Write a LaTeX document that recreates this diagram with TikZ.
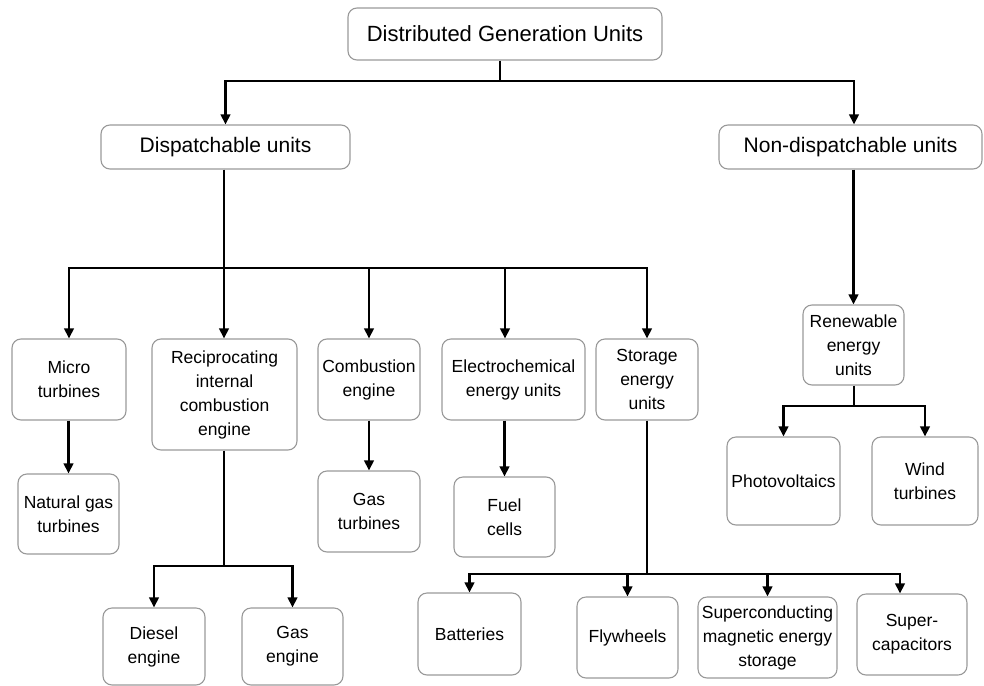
\documentclass[tikz,border=0pt]{standalone}
\usepackage{fontspec}
\setmainfont{Liberation Sans}
\usetikzlibrary{arrows.meta}
\begin{document}
\begin{tikzpicture}[x=1pt, y=-1pt,
  unit/.style={draw=black!40, line width=1.1pt, rounded corners=9pt, align=center, inner sep=2pt, font=\fontsize{17.5}{24}\selectfont},
  headunit/.style={unit, font=\fontsize{21}{24}\selectfont},
  link/.style={line width=2.4pt},
  arrowlink/.style={link, -{Triangle[length=10pt,width=9.5pt]}}]
\useasboundingbox (0,0) rectangle (984,685);
% top and second level
\node[headunit, minimum width=314pt, minimum height=52pt, font=\fontsize{22}{24}\selectfont] (dgu) at (505,34) {Distributed Generation Units};
\node[headunit, minimum width=249pt, minimum height=44pt] (disp) at (225.5,147) {Dispatchable units};
\node[headunit, minimum width=263pt, minimum height=44pt] (nondisp) at (850.5,147) {Non-dispatchable units};
\coordinate (t0) at (500,81);
\draw[link] (dgu.south -| t0) -- (t0);
\draw[arrowlink] (t0) -| (disp.north);
\draw[arrowlink] (t0) -| ([xshift=3.5pt]nondisp.north);
% dispatchable units
\node[unit, minimum width=114pt, minimum height=81pt] (micro) at (69,379.5) {Micro\\turbines};
\node[unit, minimum width=145pt, minimum height=111pt] (recip) at (224.5,394.5) {Reciprocating\\internal\\combustion\\engine};
\node[unit, minimum width=102pt, minimum height=81pt] (comb) at (369,379.5) {Combustion\\engine};
\node[unit, minimum width=143pt, minimum height=81pt] (electro) at (513.5,379.5) {Electrochemical\\energy units};
\node[unit, minimum width=102pt, minimum height=81pt] (storage) at (647,379.5) {Storage\\energy\\units};
\coordinate (d0) at (224,268);
\draw[link] (disp.south -| d0) -- (d0);
\draw[arrowlink] (d0) -| (micro.north);
\draw[arrowlink] (d0) -- (recip.north -| d0);
\draw[arrowlink] (d0) -| (comb.north);
\draw[arrowlink] (d0) -| ([xshift=-8.5pt]electro.north);
\draw[arrowlink] (d0) -| (storage.north);
% third level
\node[unit, minimum width=101pt, minimum height=80pt] (natgas) at (68.5,514) {Natural gas\\turbines};
\node[unit, minimum width=102pt, minimum height=81pt] (gasturb) at (369,511.5) {Gas\\turbines};
\node[unit, minimum width=101pt, minimum height=80pt] (fuel) at (504.5,517) {Fuel\\cells};
\draw[arrowlink] (natgas.north |- micro.south) -- (natgas.north);
\draw[arrowlink] (comb.south) -- (gasturb.north);
\draw[arrowlink] (fuel.north |- electro.south) -- (fuel.north);
% engines
\node[unit, minimum width=102pt, minimum height=77pt] (diesel) at (154,646.5) {Diesel\\engine};
\node[unit, minimum width=101pt, minimum height=77pt] (gaseng) at (292.5,646.5) {Gas\\engine};
\coordinate (r0) at (224,566);
\draw[link] (recip.south -| r0) -- (r0);
\draw[arrowlink] (r0) -| (diesel.north);
\draw[arrowlink] (r0) -| (gaseng.north);
% storage
\node[unit, minimum width=103pt, minimum height=82pt] (batt) at (469.5,634) {Batteries};
\node[unit, minimum width=101pt, minimum height=81pt] (fly) at (627.5,637.5) {Flywheels};
\node[unit, minimum width=139pt, minimum height=81pt] (smes) at (767.5,637.5) {Superconducting\\magnetic energy\\storage};
\node[unit, minimum width=110pt, minimum height=81pt] (supcap) at (912,634.5) {Super-\\capacitors};
\coordinate (s0) at (647,574);
\draw[link] (storage.south) -- (s0);
\draw[arrowlink] (s0) -| (batt.north);
\draw[arrowlink] (s0) -| (fly.north);
\draw[arrowlink] (s0) -| (smes.north);
\draw[arrowlink] (s0) -| ([xshift=-12pt]supcap.north);
% non-dispatchable units
\node[unit, minimum width=101pt, minimum height=80pt] (renew) at (853.5,345) {Renewable\\energy\\units};
\node[unit, minimum width=113pt, minimum height=88pt] (pv) at (783.5,481) {Photovoltaics};
\node[unit, minimum width=106pt, minimum height=88pt] (wind) at (925,481) {Wind\\turbines};
\draw[arrowlink] (renew.north |- nondisp.south) -- (renew.north);
\coordinate (w0) at (854,406);
\draw[link] (renew.south -| w0) -- (w0);
\draw[arrowlink] (w0) -| (pv.north);
\draw[arrowlink] (w0) -| (wind.north);
\end{tikzpicture}
\end{document}
